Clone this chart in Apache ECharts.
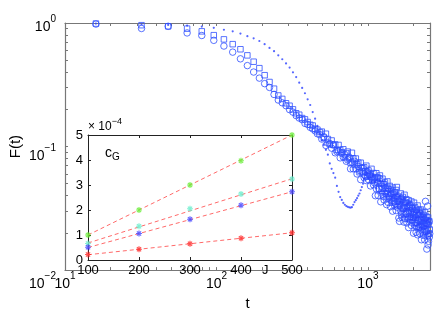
<!DOCTYPE html>
<html><head><meta charset="utf-8">
<script src="https://cdn.jsdelivr.net/npm/echarts@6/dist/echarts.min.js"></script>
<style>html,body{margin:0;padding:0;background:#fff}#c{width:436px;height:316px}</style>
</head><body><div id="c"></div>
<script>
const tValues = [16,32,48,64,80,96,112,128,144,160,176,192,208,224,240,256,272,288,304,320,336,352,368,384,400,416,432,448,464,480,496,512,528,544,560,576,592,608,624,640,656,672,688,704,720,736,752,768,784,800,816,832,848,864,880,896,912,928,944,960,976,992,1008,1024,1040,1056,1072,1088,1104,1120,1136,1152,1168,1184,1200,1216,1232,1248,1264,1280,1296,1312,1328,1344,1360,1376,1392,1408,1424,1440,1456,1472,1488,1504,1520,1536,1552,1568,1584,1600,1616,1632,1648,1664,1680,1696,1712,1728,1744,1760,1776,1792,1808,1824,1840,1856,1872,1888,1904,1920,1936,1952,1968,1984,2000,2016,2032,2048,2064,2080,2096,2112,2128,2144,2160,2176,2192,2208,2224,2240,2256,2272,2288,2304,2320,2336,2352,2368,2384,2400,2416,2432,2448,2464,2480,2496,2512,2528,2544,2560];

const fSquares = [0.99,0.96,0.94,0.90,0.856,0.797,0.737,0.674,0.613,0.547,0.486,0.431,0.378,0.333,0.294,0.259,
0.243,0.224,0.214,0.200,0.186,0.181,0.170,0.166,0.158,0.150,0.148,0.139,0.137,0.131,
0.132,0.118,0.127,0.115,0.104,0.112,0.103,0.104,0.094,0.103,0.094,0.090,0.095,0.082,0.088,
0.091,0.080,0.074,0.089,0.080,0.071,0.080,0.072,0.074,0.062,0.074,0.067,0.061,0.068,0.063,0.070,0.057,0.064,0.061,0.057,0.066,0.053,0.061,0.054,0.056,
0.0608,0.0516,0.0559,0.0454,0.0583,0.0498,0.0457,0.0549,0.0396,0.0495,0.0512,0.0435,0.0390,0.0522,0.0455,0.0398,0.0480,0.0417,0.0447,0.0351,0.0465,0.0411,0.0359,0.0428,0.0377,0.0445,0.047,0.0398,0.0374,0.0344,
0.0365,0.0331,0.0417,0.0281,0.0373,0.0391,0.0322,0.0284,0.0407,0.0348,0.0296,0.0375,0.0318,0.0349,0.0259,0.0368,0.0319,0.0271,0.0339,0.0292,
0.0359,0.0256,0.0316,0.0295,0.0268,0.0351,0.0240,0.0322,0.0265,0.0293,0.0308,0.0242,0.0333,0.0279,0.0221,0.0308,0.0256,0.0287,0.0225,0.0309,
0.0259,0.0235,0.0297,0.0200,0.0266,0.0279,0.0231,0.0204,0.0293,0.0251,0.0214,0.0271,0.0230,0.0253,0.0188,0.0267,0.0233,0.0198,0.0248,0.0213];

const fCircles = [0.98,0.903,0.94,0.831,0.792,0.724,0.651,0.581,0.513,0.452,0.401,0.358,0.323,0.301,0.264,0.238,
0.226,0.214,0.199,0.190,0.178,0.170,0.165,0.154,0.151,0.143,0.139,0.134,0.127,0.125,
0.115,0.120,0.102,0.107,0.106,0.097,0.103,0.089,0.091,0.092,0.081,0.088,0.082,0.086,0.076,
0.078,0.082,0.066,0.075,0.066,0.076,0.066,0.060,0.069,0.064,0.054,0.063,0.067,0.056,0.058,0.053,0.062,0.054,0.059,0.048,0.056,0.057,0.049,0.051,0.040,
0.0455,0.0564,0.0402,0.0457,0.055,0.0357,0.0477,0.0412,0.0496,0.0369,0.0420,0.0461,0.0339,0.0418,0.0353,0.0452,0.0373,0.0326,0.0414,0.0382,0.0300,0.0386,0.0422,0.0330,0.0346,0.0303,0.0391,0.0323,0.0364,0.0264,
0.0248,0.0358,0.0302,0.0380,0.0267,0.0316,0.0354,0.0245,0.0320,0.0261,0.0355,0.0284,0.0241,0.0326,0.0296,0.0221,0.0303,0.0339,0.0253,0.0270,
0.0230,0.0316,0.0252,0.0292,0.0199,0.0276,0.0298,0.0230,0.0257,0.0202,0.0224,0.0291,0.0193,0.0254,0.0274,0.0222,0.0292,0.0197,0.0233,0.0253,
0.0176,0.0254,0.0215,0.0271,0.0191,0.0225,0.0254,0.0176,0.0230,0.036,0.0256,0.0205,0.0148,0.0236,0.033,0.0160,0.0171,0.0247,0.0185,0.0197];

const fDots = [0.99,0.975,0.965,0.953,0.936,0.914,0.882,0.856,0.821,0.782,0.751,0.715,0.674,0.628,0.591,0.547,
0.509,0.471,0.436,0.399,0.365,0.329,0.298,0.270,0.241,0.217,0.190,0.168,0.147,0.127,
0.112,0.103,0.094,0.086,0.073,0.066,0.061,0.056,0.048,0.043,0.039,0.037,0.035,0.0338,0.033,
0.0325,0.0322,0.032,0.0323,0.0338,0.0355,0.0368,0.0382,0.040,0.0417,0.0443,0.047,0.050,0.055,0.059,0.062,
0.0606,0.0557,0.0615,0.0567,0.0519,0.0575,0.0591,0.0516,0.0522,
0.0459,0.0542,0.0501,0.0420,0.0527,0.0442,0.0484,0.0524,0.0410,0.0431,0.0491,0.0445,0.0394,0.0459,0.0409,0.0361,0.0429,0.0454,0.0377,0.0391,0.0345,0.0410,0.0383,0.0322,0.0407,0.0342,0.0377,0.0411,0.0321,0.0338,
0.0399,0.0355,0.0303,0.0374,0.0324,0.0276,0.0350,0.0379,0.0299,0.0315,0.0268,0.0340,0.0312,0.0249,0.0343,0.0274,0.0313,0.0350,0.0255,0.0276,
0.0296,0.0255,0.0315,0.0272,0.0232,0.0296,0.0321,0.0254,0.0267,0.0228,0.0289,0.0266,0.0213,0.0294,0.0236,0.0269,0.0302,0.0220,0.0238,0.0285,
0.0254,0.0218,0.0269,0.0233,0.0198,0.0253,0.0274,0.0217,0.0229,0.0195,0.0248,0.0227,0.0182,0.0251,0.0201,0.0229,0.0258,0.0187,0.0204,0.0244];

const xMajorTicks = [10, 100, 1000];
const xAllTicks = [10,20,30,40,50,60,70,80,90,100,200,300,400,500,600,700,800,900,1000,2000];
const yMajorTicks = [0.01, 0.1, 1];
const yAllTicks = [0.01,0.02,0.03,0.04,0.05,0.06,0.07,0.08,0.09,0.1,0.2,0.3,0.4,0.5,0.6,0.7,0.8,0.9,1];

const jValues = [100, 200, 300, 400, 500];
const cgGreen = [1.0, 2.0, 3.0, 3.97, 5.0];
const cgCyan  = [0.66, 1.35, 2.05, 2.64, 3.24];
const cgBlue  = [0.51, 1.06, 1.63, 2.19, 2.73];
const cgRed   = [0.22, 0.43, 0.65, 0.87, 1.09];
const fitJ = [100, 500];
const fitGreen = [1.0, 5.0];
const fitCyan  = [0.68, 3.25];
const fitBlue  = [0.5, 2.73];
const fitRed   = [0.21, 1.09];

const FONT = 'Liberation Sans';
const pairs = (xs, ys) => xs.map((x, i) => [x, ys[i]]);
function pow10Label(v) {
  const e = Math.round(Math.log10(v));
  return '{b|10}{s|' + (e < 0 ? '\u2212' + (-e) : String(e)) + '}';
}
const supRich = {
  b: { fontSize: 14, fontFamily: FONT, color: '#000', lineHeight: 20, verticalAlign: 'bottom' },
  s: { fontSize: 10, fontFamily: FONT, color: '#000', lineHeight: 12, verticalAlign: 'top' }
};
const mainLine = { show: true, onZero: false, lineStyle: { color: '#777', width: 1.2 } };
const insetLine = { show: true, onZero: false, lineStyle: { color: '#222', width: 1 } };
const ast = 'path://M0,-5L0,5M-5,0L5,0M-3.5,-3.5L3.5,3.5M3.5,-3.5L-3.5,3.5';
const blue = '#3050ff';

const chart = echarts.init(document.getElementById('c'), null, { renderer: 'canvas' });
chart.setOption({
  animation: false,
  backgroundColor: '#fff',
  title: {
    text: '{c|c}{g|G}', left: 100, top: 139,
    textStyle: { fontWeight: 'normal', rich: {
      c: { fontSize: 14, fontFamily: FONT, color: '#000', fontWeight: 'normal', lineHeight: 18 },
      g: { fontSize: 10, fontFamily: FONT, color: '#000', fontWeight: 'normal', verticalAlign: 'bottom', lineHeight: 10 }
    } }
  },
  grid: [
    { left: 59, top: 23, right: 6, bottom: 36 },
    { left: 88, top: 135, width: 204, height: 125 },
    { left: 59, top: 23, right: 6, bottom: 36 }
  ],
  xAxis: [
    { type: 'log', gridIndex: 0, min: 10, max: 2570, position: 'bottom',
      name: 't', nameLocation: 'middle', nameGap: 14,
      nameTextStyle: { fontSize: 15, fontFamily: FONT, color: '#000' },
      axisLine: mainLine,
      axisTick: { show: true, inside: true, length: 3, customValues: xAllTicks, lineStyle: { color: '#777' } },
      axisLabel: { customValues: xMajorTicks, formatter: pow10Label, rich: supRich, margin: 1,
        alignMinLabel: 'center', alignMaxLabel: 'center', hideOverlap: false },
      splitLine: { show: false } },
    { type: 'log', gridIndex: 0, min: 10, max: 2570, position: 'top',
      axisLine: mainLine,
      axisTick: { show: true, inside: true, length: 3, customValues: xAllTicks, lineStyle: { color: '#777' } },
      axisLabel: { show: false }, splitLine: { show: false } },
    { type: 'value', gridIndex: 1, min: 100, max: 500, interval: 100, position: 'bottom',
      name: 'J', nameLocation: 'end', nameGap: -30,
      nameTextStyle: { fontSize: 13, fontFamily: FONT, color: '#000', verticalAlign: 'top', padding: [4, 0, 0, 0] },
      axisLine: insetLine,
      axisTick: { show: true, inside: true, length: 3, lineStyle: { color: '#222' } },
      axisLabel: { fontSize: 13, fontFamily: FONT, color: '#000', margin: 4,
        alignMinLabel: 'center', alignMaxLabel: 'center' },
      splitLine: { show: false } },
    { type: 'value', gridIndex: 1, min: 100, max: 500, interval: 100, position: 'top',
      axisLine: insetLine,
      axisTick: { show: true, inside: true, length: 3, lineStyle: { color: '#222' } },
      axisLabel: { show: false }, splitLine: { show: false } },
    { type: 'log', gridIndex: 2, min: 10, max: 2570, show: false }
  ],
  yAxis: [
    { type: 'log', gridIndex: 0, min: 0.01, max: 1, position: 'left',
      name: 'F(t)', nameLocation: 'middle', nameGap: 42, nameRotate: 90,
      nameTextStyle: { fontSize: 15, fontFamily: FONT, color: '#000' },
      axisLine: mainLine,
      axisTick: { show: true, inside: true, length: 3, customValues: yAllTicks, lineStyle: { color: '#777' } },
      axisLabel: { show: false },
      splitLine: { show: false } },
    { type: 'log', gridIndex: 0, min: 0.01, max: 1, position: 'right',
      axisLine: mainLine,
      axisTick: { show: true, inside: true, length: 3, customValues: yAllTicks, lineStyle: { color: '#777' } },
      axisLabel: { show: false }, splitLine: { show: false } },
    { type: 'value', gridIndex: 1, min: 0, max: 5, interval: 1, position: 'left',
      name: '{x|\u00d7 10}{s|\u22124}', nameLocation: 'end', nameGap: 2,
      nameTextStyle: { align: 'left', verticalAlign: 'bottom', rich: {
        x: { fontSize: 12, fontFamily: FONT, color: '#000', lineHeight: 16, verticalAlign: 'bottom' },
        s: { fontSize: 9, fontFamily: FONT, color: '#000', lineHeight: 10, verticalAlign: 'top' } } },
      axisLine: insetLine,
      axisTick: { show: true, inside: true, length: 3, lineStyle: { color: '#222' } },
      axisLabel: { fontSize: 13, fontFamily: FONT, color: '#000', margin: 5,
        verticalAlignMinLabel: 'middle', verticalAlignMaxLabel: 'middle' },
      splitLine: { show: false } },
    { type: 'value', gridIndex: 1, min: 0, max: 5, interval: 1, position: 'right',
      axisLine: insetLine,
      axisTick: { show: true, inside: true, length: 3, lineStyle: { color: '#222' } },
      axisLabel: { show: false }, splitLine: { show: false } },
    { type: 'log', gridIndex: 2, min: 0.01, max: 1, position: 'left',
      axisLine: { show: false }, axisTick: { show: false }, splitLine: { show: false },
      axisLabel: { customValues: yMajorTicks, formatter: pow10Label, rich: supRich, margin: 3,
        padding: [3, 0, 0, 0], hideOverlap: false,
        verticalAlignMinLabel: 'middle', verticalAlignMaxLabel: 'middle' } }
  ],
  series: [
    { type: 'scatter', xAxisIndex: 0, yAxisIndex: 0, data: pairs(tValues, fSquares),
      symbol: 'rect', symbolSize: 5.5, itemStyle: { color: 'rgba(0,0,0,0)', borderColor: blue, borderWidth: 1 } },
    { type: 'scatter', xAxisIndex: 0, yAxisIndex: 0, data: pairs(tValues, fCircles),
      symbol: 'circle', symbolSize: 6.5, itemStyle: { color: 'rgba(0,0,0,0)', borderColor: blue, borderWidth: 1 } },
    { type: 'scatter', xAxisIndex: 0, yAxisIndex: 0, data: pairs(tValues, fDots),
      symbol: 'circle', symbolSize: 2.2, itemStyle: { color: '#2a40ff' } },
    ...[fitGreen, fitCyan, fitBlue, fitRed].map(f => ({
      type: 'line', xAxisIndex: 2, yAxisIndex: 2, data: pairs(fitJ, f), symbol: 'none', z: 6,
      lineStyle: { color: '#ff6a6a', width: 1, type: [4, 3] } })),
    ...[[cgGreen, '#66ee33'], [cgCyan, '#66eecc'], [cgBlue, '#4444ff'], [cgRed, '#ff2a2a']].map(([d, c]) => ({
      type: 'scatter', xAxisIndex: 2, yAxisIndex: 2, data: pairs(jValues, d), z: 7,
      symbol: ast, symbolSize: 6, itemStyle: { color: c, borderColor: c, borderWidth: 1.2 } }))
  ]
});
</script></body></html>
